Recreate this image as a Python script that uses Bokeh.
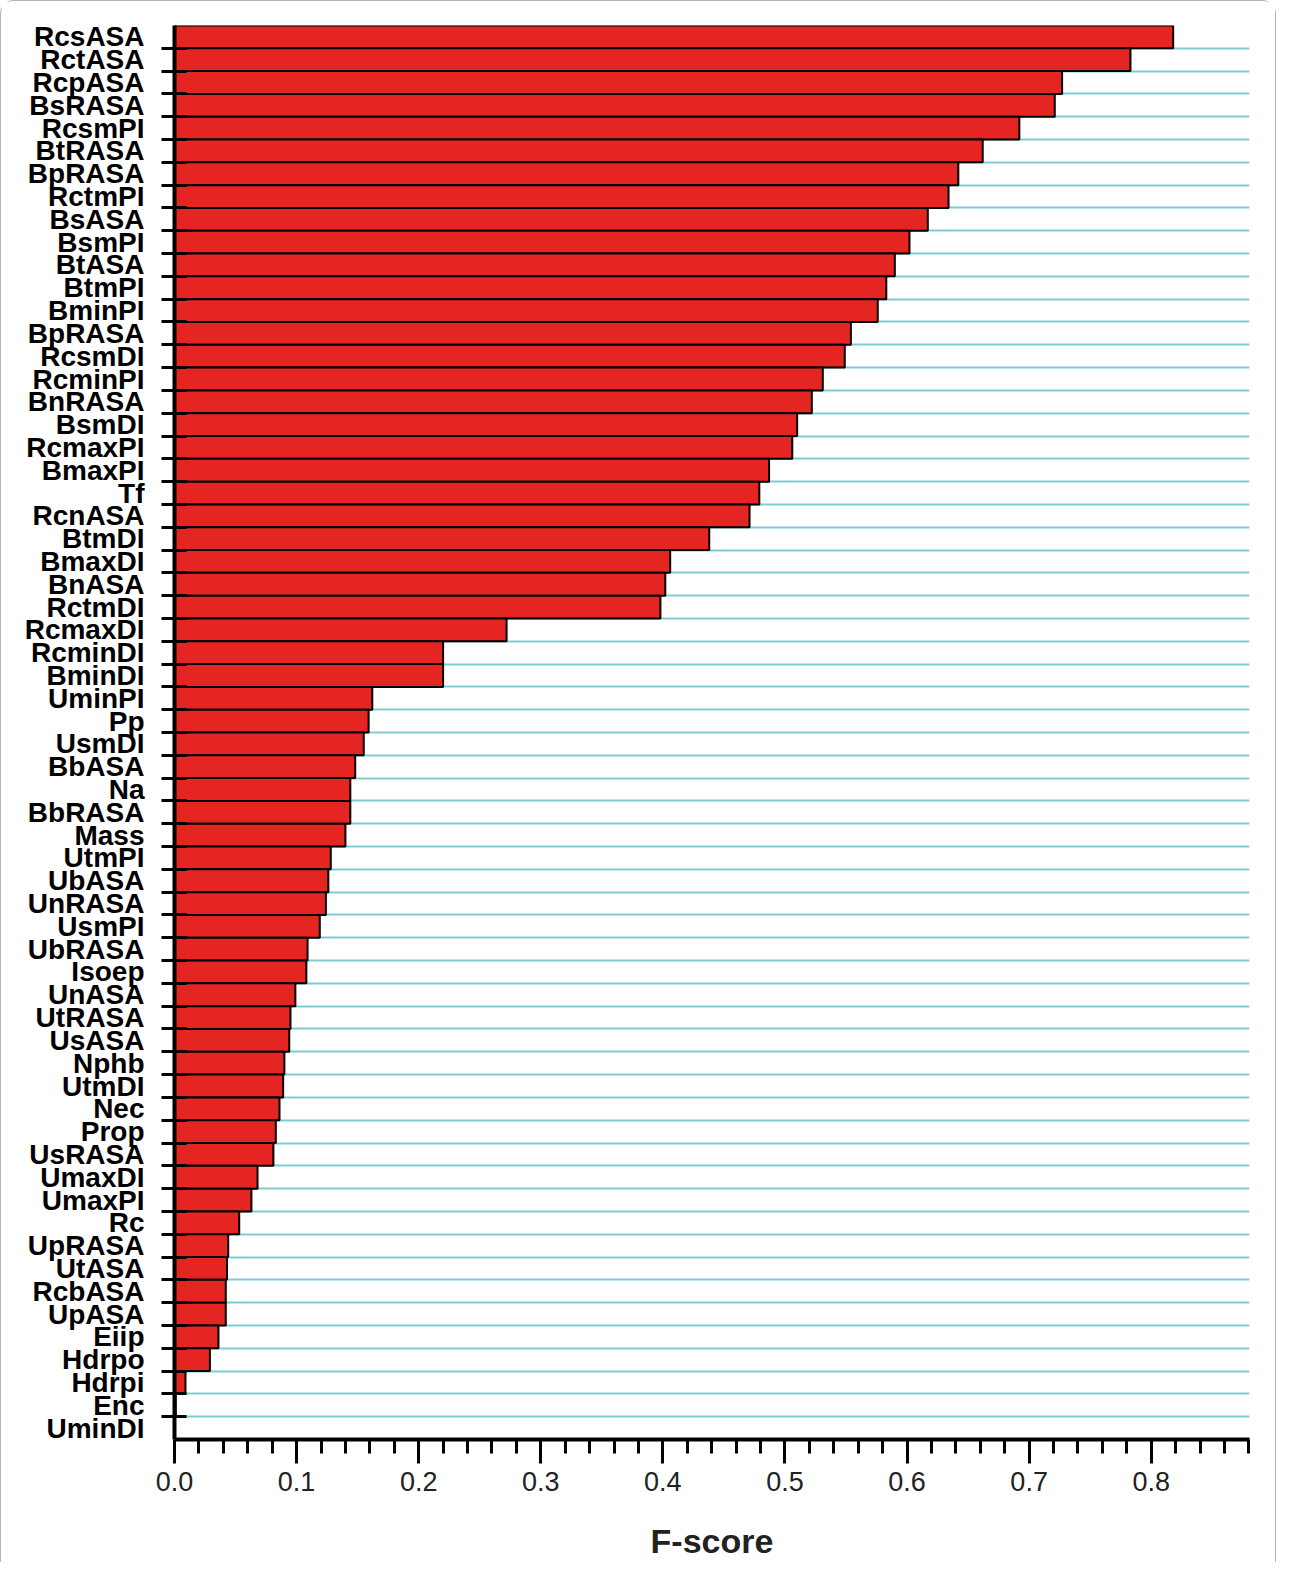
from bokeh.plotting import figure
from bokeh.models import Range1d, FixedTicker, NumeralTickFormatter
from bokeh.embed import file_html
from bokeh.resources import INLINE

features = ["RcsASA", "RctASA", "RcpASA", "BsRASA", "RcsmPI", "BtRASA", "BpRASA", "RctmPI",
            "BsASA", "BsmPI", "BtASA", "BtmPI", "BminPI", "BpRASA", "RcsmDI", "RcminPI",
            "BnRASA", "BsmDI", "RcmaxPI", "BmaxPI", "Tf", "RcnASA", "BtmDI", "BmaxDI",
            "BnASA", "RctmDI", "RcmaxDI", "RcminDI", "BminDI", "UminPI", "Pp", "UsmDI",
            "BbASA", "Na", "BbRASA", "Mass", "UtmPI", "UbASA", "UnRASA", "UsmPI",
            "UbRASA", "Isoep", "UnASA", "UtRASA", "UsASA", "Nphb", "UtmDI", "Nec",
            "Prop", "UsRASA", "UmaxDI", "UmaxPI", "Rc", "UpRASA", "UtASA", "RcbASA",
            "UpASA", "Eiip", "Hdrpo", "Hdrpi", "Enc", "UminDI"]

fscore = [0.818, 0.783, 0.727, 0.721, 0.692, 0.662, 0.642, 0.634,
          0.617, 0.602, 0.590, 0.583, 0.576, 0.554, 0.549, 0.531,
          0.522, 0.510, 0.506, 0.487, 0.479, 0.471, 0.438, 0.406,
          0.402, 0.398, 0.272, 0.220, 0.220, 0.162, 0.159, 0.155,
          0.148, 0.144, 0.144, 0.140, 0.128, 0.126, 0.124, 0.119,
          0.109, 0.108, 0.099, 0.095, 0.094, 0.090, 0.089, 0.086,
          0.083, 0.081, 0.068, 0.063, 0.053, 0.044, 0.043, 0.042,
          0.042, 0.036, 0.029, 0.009, 0.001, 0.0]

x_major_ticks = [0.0, 0.1, 0.2, 0.3, 0.4, 0.5, 0.6, 0.7, 0.8]
x_minor_ticks = [round(0.02 * k, 2) for k in range(1, 45)]
x_title = "F-score"

n = len(features)
centers = [i + 0.5 for i in range(n)]
boundaries = [float(i) for i in range(1, n)]

p = figure(width=1276, height=1562, output_backend="svg", toolbar_location=None,
           x_range=Range1d(0, 0.8805), y_range=Range1d(n, 0),
           min_border_left=173, min_border_right=28, min_border_top=24, min_border_bottom=124)

p.hbar(y=centers, right=fscore, left=0, height=1.0,
       fill_color="#E52521", line_color="black", line_width=2)

p.outline_line_color = None
p.background_fill_color = "white"
p.border_fill_color = "white"

# y axis
yt = FixedTicker(ticks=centers, minor_ticks=boundaries)
ya = p.yaxis[0]
ya.ticker = yt
ya.major_label_overrides = {c: f for c, f in zip(centers, features)}
ya.major_tick_line_color = None
ya.major_tick_out = 0
ya.major_tick_in = 0
ya.minor_tick_out = 13
ya.minor_tick_in = 12
ya.minor_tick_line_width = 3
ya.minor_tick_line_color = "black"
ya.axis_line_width = 4
ya.axis_line_color = "black"
ya.major_label_standoff = 17
ya.major_label_text_font = "Liberation Sans"
ya.major_label_text_font_style = "bold"
ya.major_label_text_font_size = "28px"
ya.major_label_text_color = "black"

p.ygrid.ticker = yt
p.ygrid.grid_line_color = None
p.ygrid.minor_grid_line_color = "#7FCCD4"
p.ygrid.minor_grid_line_width = 2
p.xgrid.grid_line_color = None

# x axis
xa = p.xaxis[0]
xa.ticker = FixedTicker(ticks=x_major_ticks, minor_ticks=x_minor_ticks)
xa.formatter = NumeralTickFormatter(format="0.0")
xa.axis_line_width = 4
xa.axis_line_color = "black"
xa.major_tick_out = 24
xa.major_tick_in = 0
xa.minor_tick_out = 14
xa.minor_tick_in = 0
xa.major_tick_line_width = 3
xa.minor_tick_line_width = 3
xa.major_tick_line_color = "black"
xa.minor_tick_line_color = "black"
xa.major_label_standoff = 8
xa.major_label_text_font = "Liberation Sans"
xa.major_label_text_font_size = "27px"
xa.major_label_text_color = "#222222"
xa.axis_label = x_title
xa.axis_label_text_font = "Liberation Sans"
xa.axis_label_text_font_style = "bold"
xa.axis_label_text_font_size = "34px"
xa.axis_label_text_color = "#222222"
xa.axis_label_standoff = 28

p.styles = {"border": "1px solid #b5b5b5", "border-bottom": "none", "border-radius": "14px 14px 0 0"}

open("out.html", "w").write(file_html(p, INLINE))
